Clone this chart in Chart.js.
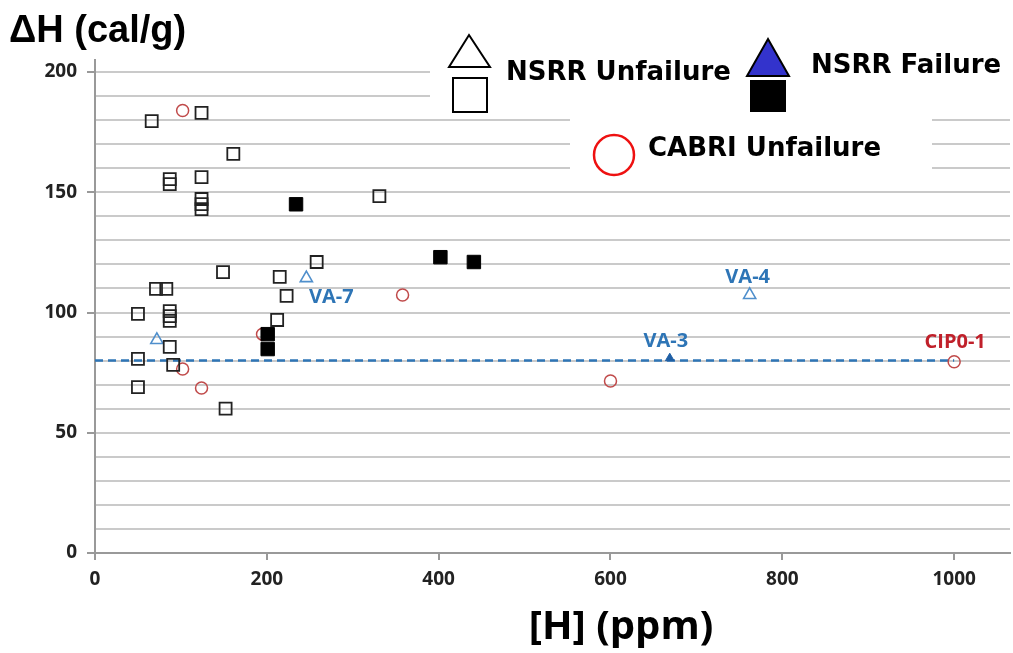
<!DOCTYPE html>
<html>
<head>
<meta charset="utf-8">
<title>dH vs H</title>
<script src="https://cdn.jsdelivr.net/npm/chart.js@4/dist/chart.umd.min.js"></script>
<style>
html, body { margin: 0; padding: 0; background: #fff; }
</style>
</head>
<body>
<canvas id="chart" width="1013" height="653"></canvas>
<script>
// ===============================
// data
// ===============================

// NSRR unfailure, open squares
const nsrrSqX = [66, 124, 161, 87, 87, 124, 124, 124, 124, 331, 149, 215, 258, 223, 212, 71, 83, 50, 87, 87, 87, 87, 50, 91, 50, 152];
const nsrrSqY = [179.6, 183, 166, 155.5, 153.4, 156.3, 147.2, 145.1, 143, 148.4, 116.8, 114.8, 121, 106.9, 96.9, 109.8, 109.8, 99.4, 100.6, 98.5, 96.5, 85.7, 80.7, 78.2, 69, 60];

// NSRR failure, filled squares
const failSqX = [234, 402, 441, 201, 201];
const failSqY = [145, 123, 121, 91, 84.8];

// NSRR unfailure, open triangles (VA-7, VA-4)
const nsrrTriX = [72, 246, 762];
const nsrrTriY = [88.6, 114.3, 107.3];

// NSRR failure, filled triangle (VA-3)
const failTriX = [669];
const failTriY = [81];

// CABRI unfailure, circles
const cabriX = [102, 102, 124, 195, 358, 600, 1000];
const cabriY = [184, 76.5, 68.6, 91, 107.3, 71.5, 79.5];

// dashed limit line
const limitX = [0, 1000];
const limitY = [80, 80];

const xTicks = [0, 200, 400, 600, 800, 1000];
const yTicks = [0, 50, 100, 150, 200];

function toPoints(xs, ys) {
    return xs.map((x, i) => ({ x: x, y: ys[i] }));
}

// labels next to some points: dataset index, point index, pixel offset
const pointNotes = [
    { text: "VA-7", ds: 2, pt: 1, dx: 25, dy: 19, color: "#2e75b6" },
    { text: "VA-4", ds: 2, pt: 2, dx: -2, dy: -18, color: "#2e75b6" },
    { text: "VA-3", ds: 3, pt: 0, dx: -4, dy: -17, color: "#2e75b6" },
    { text: "CIP0-1", ds: 4, pt: 6, dx: 1, dy: -20, color: "#c0202a" }
];

// ===============================
// plugins
// ===============================

const whiteBoxes = {
    id: "whiteBoxes",
    beforeDatasetsDraw(chart) {
        const ctx = chart.ctx;
        ctx.save();
        ctx.fillStyle = "#ffffff";
        ctx.fillRect(430, 22, 583, 84);
        ctx.fillRect(570, 100, 362, 80);
        ctx.restore();
    }
};

const notesAndTitles = {
    id: "notesAndTitles",
    afterDraw(chart) {
        const ctx = chart.ctx;
        ctx.save();

        // point labels
        ctx.font = "bold 20px 'Open Sans'";
        ctx.textAlign = "center";
        ctx.textBaseline = "middle";
        pointNotes.forEach(n => {
            const el = chart.getDatasetMeta(n.ds).data[n.pt];
            ctx.fillStyle = n.color;
            ctx.fillText(n.text, el.x + n.dx, el.y + n.dy);
        });

        // axis titles
        ctx.fillStyle = "#000";
        ctx.textAlign = "left";
        ctx.textBaseline = "alphabetic";
        ctx.font = "bold 38px 'Liberation Sans'";
        ctx.fillText("\u0394H (cal/g)", 9, 42);
        ctx.textAlign = "center";
        ctx.font = "bold 40px 'Open Sans'";
        ctx.fillText("[H] (ppm)", 621, 639);

        // legend
        ctx.lineWidth = 2;
        ctx.strokeStyle = "#000";
        ctx.beginPath();
        ctx.moveTo(469, 35); ctx.lineTo(490, 67); ctx.lineTo(449, 67); ctx.closePath();
        ctx.stroke();
        ctx.strokeRect(453, 78, 34, 34);

        ctx.fillStyle = "#3333cc";
        ctx.beginPath();
        ctx.moveTo(768, 39); ctx.lineTo(789, 76); ctx.lineTo(747, 76); ctx.closePath();
        ctx.fill();
        ctx.stroke();
        ctx.fillStyle = "#000";
        ctx.fillRect(750, 80, 36, 32);

        ctx.strokeStyle = "#ee1111";
        ctx.lineWidth = 2.5;
        ctx.beginPath();
        ctx.ellipse(614, 155, 20, 20, 0, 0, Math.PI * 2);
        ctx.stroke();

        ctx.fillStyle = "#000";
        ctx.textAlign = "left";
        ctx.textBaseline = "middle";
        ctx.font = "bold 26px 'DejaVu Sans'";
        ctx.fillText("NSRR Unfailure", 506, 73);
        ctx.fillText("NSRR Failure", 811, 66);
        ctx.fillText("CABRI Unfailure", 648, 149);

        ctx.restore();
    }
};

// ===============================
// chart
// ===============================

const tickFont = { family: "'Open Sans'", size: 19, weight: "bold" };

new Chart(document.getElementById("chart"), {
    type: "scatter",
    data: {
        datasets: [
            {
                label: "NSRR Unfailure",
                data: toPoints(nsrrSqX, nsrrSqY),
                pointStyle: "rect",
                radius: 8.5,
                backgroundColor: "rgba(255,255,255,0)",
                borderColor: "#222",
                borderWidth: 1.8
            },
            {
                label: "NSRR Failure",
                data: toPoints(failSqX, failSqY),
                pointStyle: "rect",
                radius: 9.5,
                backgroundColor: "#000",
                borderColor: "#000",
                borderWidth: 1
            },
            {
                label: "NSRR Unfailure (VA)",
                data: toPoints(nsrrTriX, nsrrTriY),
                pointStyle: "triangle",
                radius: 7,
                backgroundColor: "rgba(255,255,255,0)",
                borderColor: "#4f8fcc",
                borderWidth: 1.6
            },
            {
                label: "NSRR Failure (VA)",
                data: toPoints(failTriX, failTriY),
                pointStyle: "triangle",
                radius: 5,
                backgroundColor: "#1f5fa5",
                borderColor: "#1f5fa5",
                borderWidth: 1
            },
            {
                label: "CABRI Unfailure",
                data: toPoints(cabriX, cabriY),
                pointStyle: "circle",
                radius: 6,
                backgroundColor: "rgba(255,255,255,0)",
                borderColor: "#c04a4a",
                borderWidth: 1.5
            },
            {
                type: "line",
                label: "limit",
                data: toPoints(limitX, limitY),
                borderColor: "#2e75b6",
                borderWidth: 2.5,
                borderDash: [8, 5],
                pointRadius: 0,
                fill: false
            }
        ]
    },
    options: {
        responsive: false,
        devicePixelRatio: 1,
        animation: false,
        layout: { autoPadding: false, padding: { top: 60, right: 3, left: 0, bottom: 0 } },
        plugins: {
            legend: { display: false },
            tooltip: { enabled: false }
        },
        scales: {
            x: {
                type: "linear",
                min: 0,
                max: 1065,
                afterFit: s => { s.height = 100; },
                afterBuildTicks: s => { s.ticks = xTicks.map(v => ({ value: v })); },
                ticks: {
                    font: tickFont,
                    color: "#222",
                    padding: 8,
                    maxRotation: 0,
                    callback: v => String(v)
                },
                grid: {
                    drawOnChartArea: false,
                    tickLength: 7,
                    tickColor: "#999",
                    lineWidth: 2
                },
                border: { color: "#999", width: 2 }
            },
            y: {
                min: 0,
                max: 205,
                afterFit: s => { s.width = 95; },
                ticks: {
                    stepSize: 10,
                    includeBounds: false,
                    autoSkip: false,
                    font: tickFont,
                    color: "#222",
                    padding: 10,
                    callback: v => (yTicks.includes(v) ? v : "")
                },
                grid: {
                    color: "#cacaca",
                    lineWidth: 2,
                    tickLength: 8,
                    tickColor: c => (c.tick && yTicks.includes(c.tick.value) ? "#999" : "rgba(0,0,0,0)")
                },
                border: { color: "#999", width: 2 }
            }
        }
    },
    plugins: [whiteBoxes, notesAndTitles]
});
</script>
</body>
</html>
